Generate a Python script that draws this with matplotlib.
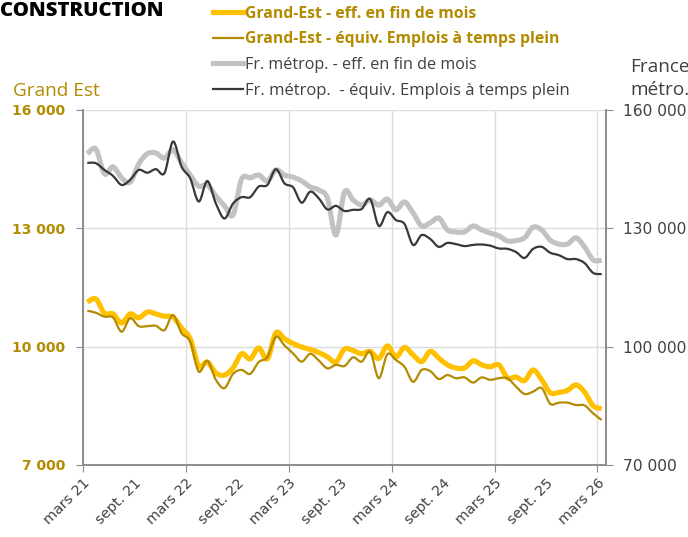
import numpy as np
import matplotlib.pyplot as plt
from matplotlib.lines import Line2D
from matplotlib.path import Path
from matplotlib.patches import PathPatch

plt.rcParams['font.family'] = ['Open Sans', 'DejaVu Sans']

# monthly data, mars 2021 -> mars 2026
ge_eff = [11130, 11210, 10850, 10830, 10600, 10830, 10730, 10880, 10830, 10770,
          10750, 10470, 10200, 9510, 9610, 9330, 9280, 9460, 9820, 9690,
          9970, 9690, 10350, 10200, 10080, 9990, 9930, 9850, 9740, 9610,
          9940, 9900, 9820, 9880, 9700, 10020, 9740, 9980, 9790, 9620,
          9880, 9710, 9540, 9460, 9460, 9640, 9540, 9490, 9540, 9210,
          9230, 9140, 9410, 9160, 8830, 8840, 8890, 9030, 8850, 8500, 8430]
ge_etp = [10910, 10860, 10760, 10740, 10380, 10720, 10520, 10520, 10530, 10420,
          10800, 10340, 10130, 9370, 9640, 9160, 8950, 9310, 9410, 9310,
          9610, 9740, 10250, 10030, 9830, 9620, 9820, 9650, 9450, 9540,
          9510, 9730, 9620, 9870, 9200, 9810, 9660, 9490, 9110, 9410,
          9380, 9180, 9280, 9200, 9220, 9090, 9220, 9160, 9200, 9200,
          8990, 8800, 8860, 8950, 8550, 8580, 8580, 8520, 8510, 8310, 8140]
fr_eff = [148900, 150100, 143800, 145600, 142800, 141700, 146300, 148900, 149100, 147800,
          149900, 146600, 143500, 140700, 141000, 138200, 135700, 133400, 142500, 142800,
          143500, 142000, 144800, 143500, 143000, 142000, 140500, 139700, 137700, 128300,
          139200, 137200, 135900, 137200, 135900, 137400, 134700, 136700, 133900, 130600,
          131400, 132600, 129600, 129100, 129100, 130600, 129600, 128800, 128100, 126800,
          126900, 127600, 130300, 129600, 127000, 126000, 126000, 127600, 125300, 122000, 121900]
fr_etp = [146600, 146500, 144800, 143300, 141000, 142300, 144800, 144100, 145000, 144000,
          152000, 145600, 142700, 136800, 142000, 136300, 132500, 136300, 137900, 137900,
          140600, 141000, 145000, 141400, 140400, 136500, 139300, 137600, 134800, 135700,
          134400, 134700, 134900, 137400, 130600, 134100, 132100, 131100, 125800, 128300,
          127300, 125300, 126300, 126000, 125500, 125800, 125900, 125600, 124900, 124800,
          124000, 122500, 124800, 125300, 123800, 123200, 122200, 122200, 121200, 118700, 118400]

years = ['21', '22', '23', '24', '25', '26']
mars_labels = ['mars ' + y for y in years]
sept_labels = ['sept. ' + y for y in years[:-1]]
left_ticks = [7000, 10000, 13000, 16000]
right_ticks = [70000, 100000, 130000, 160000]

c_yellow = '#FFC000'
c_gold = '#B38B00'
c_lgray = '#C2C2C2'
c_dark = '#383838'
c_text = '#404040'
c_grid = '#DCDCDC'
c_spine = '#8C8C8C'


def smooth_line(ax, xs, ys, **kw):
    # excel-like smoothed line: cubic bezier through every point
    p = np.column_stack([xs, ys]).astype(float)
    verts = [p[0]]
    codes = [Path.MOVETO]
    for i in range(len(p) - 1):
        p0 = p[i - 1] if i > 0 else p[i]
        p3 = p[i + 2] if i + 2 < len(p) else p[i + 1]
        c1 = p[i] + (p[i + 1] - p0) / 6
        c2 = p[i + 1] - (p3 - p[i]) / 6
        verts += [c1, c2, p[i + 1]]
        codes += [Path.CURVE4] * 3
    ax.add_patch(PathPatch(Path(verts, codes), facecolor='none', **kw))


x = np.arange(len(ge_eff)) + 0.5

fig = plt.figure(figsize=(6.88, 5.37), dpi=100)
ax = fig.add_axes([83 / 688, 1 - 465 / 537, 523 / 688, 355 / 537])
ax2 = ax.twinx()

smooth_line(ax, x, ge_eff, edgecolor=c_yellow, lw=3.7, joinstyle='round', zorder=3)
smooth_line(ax, x, ge_etp, edgecolor=c_gold, lw=1.6, zorder=4)
smooth_line(ax2, x, fr_eff, edgecolor=c_lgray, lw=3.7, joinstyle='round', zorder=3)
smooth_line(ax2, x, fr_etp, edgecolor=c_dark, lw=1.6, zorder=4)

ax.set_xlim(0, 61)
ax.set_ylim(7000, 16000)
ax2.set_ylim(70000, 160000)

ax.set_xticks(np.arange(0, 61, 12))
ax.set_xticklabels(mars_labels)
ax.set_xticks(np.arange(6, 61, 12), minor=True)
ax.set_xticklabels(sept_labels, minor=True)
for lab in ax.get_xticklabels(which='both'):
    lab.set_rotation(45)
    lab.set_ha('right')
    lab.set_va('top')
    lab.set_rotation_mode('anchor')
    lab.set_fontsize(10.3)
    lab.set_family('DejaVu Sans')
    lab.set_color(c_text)
ax.tick_params(axis='x', which='major', length=5, color=c_spine, pad=3)
ax.tick_params(axis='x', which='minor', length=0, pad=8)

fmt = lambda v: f'{v:,}'.replace(',', ' ')
ax.set_yticks(left_ticks)
ax.set_yticklabels([fmt(v) for v in left_ticks], fontweight='bold', color=c_gold,
                   fontsize=10, family='DejaVu Sans')
ax.tick_params(axis='y', length=5, color=c_spine, pad=8)
ax2.set_yticks(right_ticks)
ax2.set_yticklabels([fmt(v) for v in right_ticks], color=c_text, fontsize=11.2,
                    family='DejaVu Sans')
ax2.tick_params(axis='y', length=5, color=c_spine, pad=7)

ax.grid(True, axis='y', color=c_grid, lw=1)
ax.grid(True, axis='x', which='major', color=c_grid, lw=1)
ax.set_axisbelow(True)
for a in (ax, ax2):
    a.spines['top'].set_visible(False)
    for s in ('left', 'right', 'bottom'):
        a.spines[s].set_color(c_spine)
        a.spines[s].set_linewidth(1.2)

fig.text(0.0, 1 - 15.5 / 537, 'CONSTRUCTION', fontsize=14.6, fontweight='heavy',
         color='black', va='baseline', ha='left')
fig.text(13 / 688, 1 - 96 / 537, 'Grand Est', fontsize=13.7, color=c_gold,
         va='baseline', ha='left')
fig.text(630 / 688, 1 - 95 / 537, 'France\nmétro.', fontsize=13.7, color=c_text,
         va='baseline', ha='left', linespacing=1.35)

handles = [Line2D([], [], color=c_yellow, lw=3.7),
           Line2D([], [], color=c_gold, lw=1.6),
           Line2D([], [], color=c_lgray, lw=3.7),
           Line2D([], [], color=c_dark, lw=1.6)]
labels = ['Grand-Est - eff. en fin de mois',
          'Grand-Est - équiv. Emplois à temps plein',
          'Fr. métrop. - eff. en fin de mois',
          'Fr. métrop.  - équiv. Emplois à temps plein']
leg = fig.legend(handles, labels, loc='upper left', bbox_to_anchor=(206 / 688, 1 + 1 / 537),
                 frameon=False, fontsize=12, handlelength=1.8, handletextpad=0.15,
                 labelspacing=0.58, borderaxespad=0)
for t, c, w, fs in zip(leg.get_texts(), [c_gold, c_gold, c_text, c_text],
                       ['bold', 'bold', 'normal', 'normal'], [11.3, 11.3, 11.6, 12]):
    t.set_color(c)
    t.set_fontweight(w)
    t.set_fontsize(fs)

fig.savefig('out.png', dpi=100)
